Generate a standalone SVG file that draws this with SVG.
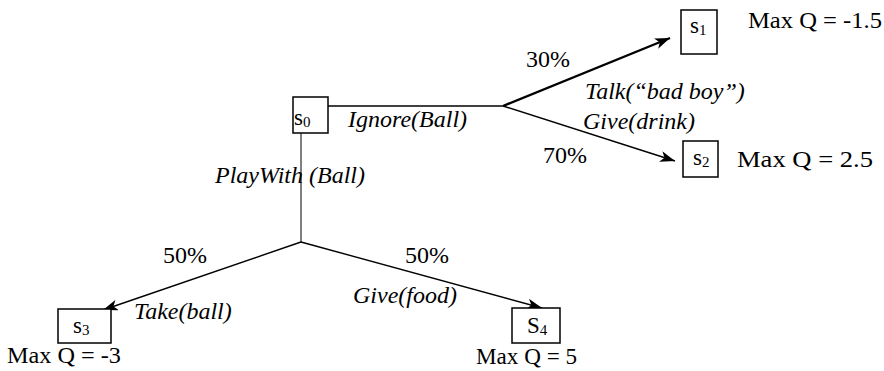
<svg xmlns="http://www.w3.org/2000/svg" width="884" height="371" viewBox="0 0 884 371" font-family="'Liberation Serif', 'Times New Roman', serif">
<style>
text{font-family:'Liberation Serif','Times New Roman',serif;fill:#000}
.lbl{font-size:24px}
.it{font-size:24px;font-style:italic}
.nd{font-size:23px}
.sub{font-size:15px}
.box{fill:#fff;stroke:#000;stroke-width:1.5}
.ln{fill:none;stroke:#000;stroke-width:1.4}
</style>
<defs>
<marker id="ah" markerUnits="userSpaceOnUse" markerWidth="15" markerHeight="11" refX="15" refY="5.5" orient="auto">
<path d="M0,0 L15,5.5 L0,11 L4,5.5 z" fill="#000"/>
</marker>
</defs>
<g id="connectors">
<line class="ln" x1="328" y1="106" x2="503" y2="106"/>
<line class="ln" x1="503" y1="106" x2="670" y2="38" style="stroke-width:2.4" marker-end="url(#ah)"/>
<line class="ln" x1="503" y1="106" x2="675" y2="161" marker-end="url(#ah)"/>
<line class="ln" x1="301" y1="133" x2="301" y2="242" style="stroke-width:1"/>
<line class="ln" x1="301" y1="242" x2="103" y2="310" marker-end="url(#ah)"/>
<line class="ln" x1="301" y1="242" x2="542" y2="308" marker-end="url(#ah)"/>
<text class="it" x="348" y="127">Ignore(Ball)</text>
<text class="lbl" x="526" y="67">30%</text>
<text class="it" x="585" y="99">Talk(“bad boy”)</text>
<text class="it" x="583" y="129">Give(drink)</text>
<text class="lbl" x="543" y="163">70%</text>
<text class="it" x="215" y="183">PlayWith (Ball)</text>
<text class="lbl" x="163" y="263">50%</text>
<text class="lbl" x="405" y="263">50%</text>
<text class="it" x="353" y="303">Give(food)</text>
<text class="it" x="134" y="319">Take(ball)</text>
</g>
<g id="s0">
<rect class="box" x="293" y="97" width="35" height="36"/>
<text class="nd" x="294" y="125">s<tspan class="sub" dy="2">0</tspan></text>
</g>
<g id="s1">
<rect class="box" x="681" y="10" width="36" height="44"/>
<text class="nd" x="690" y="33">s<tspan class="sub" dy="2">1</tspan></text>
<text class="lbl" x="748" y="28" textLength="134" lengthAdjust="spacingAndGlyphs">Max Q = -1.5</text>
</g>
<g id="s2">
<rect class="box" x="683" y="141" width="35" height="36"/>
<text class="nd" x="693" y="165">s<tspan class="sub" dy="2">2</tspan></text>
<text class="lbl" x="737" y="167" textLength="136" lengthAdjust="spacingAndGlyphs">Max Q = 2.5</text>
</g>
<g id="s3">
<rect class="box" x="58" y="309" width="53" height="34"/>
<text class="nd" x="73" y="333">s<tspan class="sub" dy="2">3</tspan></text>
<text class="lbl" x="7" y="363" textLength="114" lengthAdjust="spacingAndGlyphs">Max Q = -3</text>
</g>
<g id="s4">
<rect class="box" x="512" y="308" width="48" height="35"/>
<text class="nd" x="527" y="333">S<tspan class="sub" dy="2">4</tspan></text>
<text class="lbl" x="476" y="364" textLength="101" lengthAdjust="spacingAndGlyphs">Max Q = 5</text>
</g>
</svg>
